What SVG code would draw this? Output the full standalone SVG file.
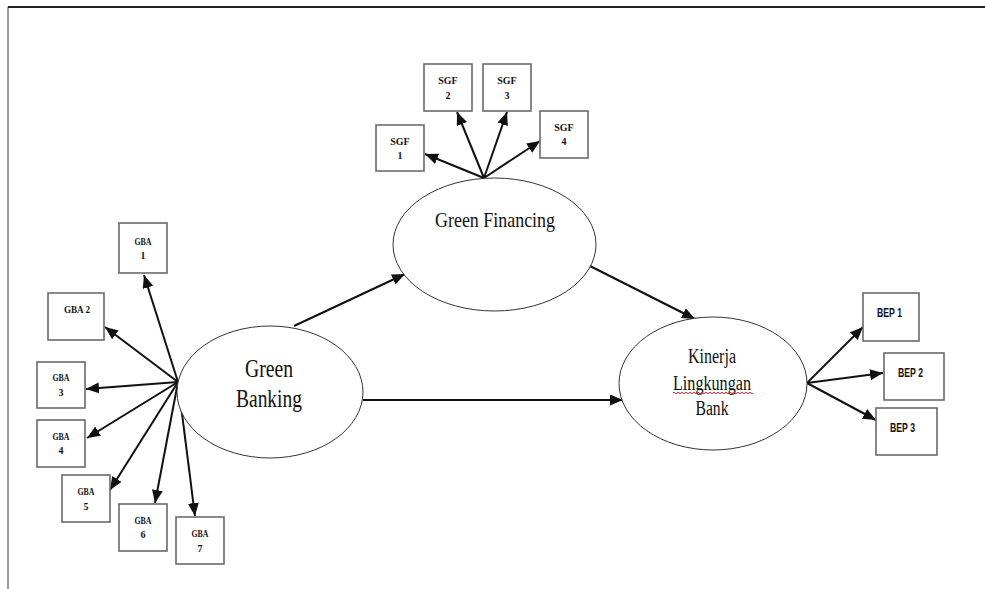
<svg xmlns="http://www.w3.org/2000/svg" width="985" height="589" viewBox="0 0 985 589">
<style>
.box{fill:#fff;stroke:#6a6a6a;stroke-width:1.6}
.ell{fill:#fff;stroke:#333;stroke-width:1}
.lbl{font-family:"Liberation Serif","Times New Roman",serif;font-weight:bold;font-size:10px;fill:#111;text-anchor:middle}
.big{font-family:"Liberation Serif","Times New Roman",serif;fill:#111;text-anchor:middle}
.bep{font-family:"Liberation Sans",Arial,sans-serif;font-weight:bold;font-size:12px;fill:#111}
.arr{stroke:#111;stroke-width:2;fill:none;marker-end:url(#ah)}
</style>
<defs>
<marker id="ah" markerUnits="userSpaceOnUse" markerWidth="14" markerHeight="12" refX="13" refY="5.5" orient="auto">
<path d="M0,0 L13,5.5 L0,11 z" fill="#111"/>
</marker>
</defs>
<rect width="985" height="589" fill="#fff"/>
<g id="frame">
<line x1="8" y1="7" x2="985" y2="7" stroke="#222" stroke-width="2"/>
<line x1="8" y1="7" x2="8" y2="589" stroke="#333" stroke-width="1"/>
</g>
<g id="connectors">
<line class="arr" x1="484" y1="178" x2="425" y2="154"/>
<line class="arr" x1="484" y1="178" x2="457" y2="112"/>
<line class="arr" x1="484" y1="178" x2="507" y2="112"/>
<line class="arr" x1="484" y1="178" x2="540" y2="141"/>
<line class="arr" x1="294" y1="326" x2="405" y2="274"/>
<line class="arr" x1="588" y1="265" x2="695" y2="319"/>
<line class="arr" x1="363" y1="400" x2="623" y2="400"/>
<line class="arr" x1="807" y1="383" x2="863" y2="327"/>
<line class="arr" x1="807" y1="383" x2="883" y2="373"/>
<line class="arr" x1="807" y1="383" x2="876" y2="420"/>
<line class="arr" x1="178" y1="382" x2="144" y2="275"/>
<line class="arr" x1="178" y1="382" x2="105" y2="327"/>
<line class="arr" x1="178" y1="382" x2="86" y2="389"/>
<line class="arr" x1="178" y1="382" x2="87" y2="438"/>
<line class="arr" x1="178" y1="382" x2="110" y2="490"/>
<line class="arr" x1="178" y1="382" x2="155" y2="503"/>
<line class="arr" x1="178" y1="382" x2="195" y2="516"/>
</g>
<g id="green-financing">
<ellipse class="ell" cx="494.5" cy="244.5" rx="101.5" ry="66.5"/>
<text class="big" x="495" y="227" font-size="22" textLength="120" lengthAdjust="spacingAndGlyphs">Green Financing</text>
</g>
<g id="green-banking">
<ellipse class="ell" cx="270" cy="392" rx="93" ry="66"/>
<text class="big" x="269" y="377" font-size="25" textLength="48" lengthAdjust="spacingAndGlyphs">Green</text>
<text class="big" x="269" y="407" font-size="25" textLength="66" lengthAdjust="spacingAndGlyphs">Banking</text>
</g>
<g id="kinerja">
<ellipse class="ell" cx="713" cy="383.5" rx="94" ry="66.5"/>
<text class="big" x="712" y="363" font-size="20" textLength="48" lengthAdjust="spacingAndGlyphs">Kinerja</text>
<text class="big" x="712" y="390" font-size="20" textLength="78" lengthAdjust="spacingAndGlyphs">Lingkungan</text>
<path d="M673,393 q1,-2 2,0 t2,0 t2,0 t2,0 t2,0 t2,0 t2,0 t2,0 t2,0 t2,0 t2,0 t2,0 t2,0 t2,0 t2,0 t2,0 t2,0 t2,0 t2,0 t2,0 t2,0 t2,0 t2,0 t2,0 t2,0 t2,0 t2,0 t2,0 t2,0 t2,0 t2,0 t2,0 t2,0 t2,0 t2,0 t2,0 t2,0 t2,0 t2,0 t2,0" fill="none" stroke="#e03030" stroke-width="1"/>
<text class="big" x="712" y="415" font-size="20" textLength="33" lengthAdjust="spacingAndGlyphs">Bank</text>
</g>
<g id="sgf1"><rect class="box" x="376" y="125" width="48" height="46"/><text class="lbl" x="400" y="145">SGF</text><text class="lbl" x="400" y="159">1</text></g>
<g id="sgf2"><rect class="box" x="424" y="64" width="48" height="47"/><text class="lbl" x="448" y="84">SGF</text><text class="lbl" x="448" y="99">2</text></g>
<g id="sgf3"><rect class="box" x="483" y="64" width="48" height="47"/><text class="lbl" x="507" y="84">SGF</text><text class="lbl" x="507" y="99">3</text></g>
<g id="sgf4"><rect class="box" x="540" y="111" width="48" height="47"/><text class="lbl" x="564" y="131">SGF</text><text class="lbl" x="564" y="145">4</text></g>
<g id="gba1"><rect class="box" x="119" y="223" width="48" height="50"/><text class="lbl" x="143" y="245" textLength="17" lengthAdjust="spacingAndGlyphs">GBA</text><text class="lbl" x="143" y="259">1</text></g>
<g id="gba2"><rect class="box" x="48" y="293" width="56" height="47"/><text class="lbl" x="77" y="313" textLength="26" lengthAdjust="spacingAndGlyphs">GBA 2</text></g>
<g id="gba3"><rect class="box" x="37" y="362" width="48" height="46"/><text class="lbl" x="61" y="381" textLength="17" lengthAdjust="spacingAndGlyphs">GBA</text><text class="lbl" x="61" y="396">3</text></g>
<g id="gba4"><rect class="box" x="37" y="420" width="48" height="47"/><text class="lbl" x="61" y="440" textLength="17" lengthAdjust="spacingAndGlyphs">GBA</text><text class="lbl" x="61" y="454">4</text></g>
<g id="gba5"><rect class="box" x="62" y="475" width="48" height="47"/><text class="lbl" x="86" y="495" textLength="17" lengthAdjust="spacingAndGlyphs">GBA</text><text class="lbl" x="86" y="510">5</text></g>
<g id="gba6"><rect class="box" x="119" y="504" width="48" height="47"/><text class="lbl" x="143" y="524" textLength="17" lengthAdjust="spacingAndGlyphs">GBA</text><text class="lbl" x="143" y="538">6</text></g>
<g id="gba7"><rect class="box" x="176" y="517" width="48" height="47"/><text class="lbl" x="200" y="537" textLength="17" lengthAdjust="spacingAndGlyphs">GBA</text><text class="lbl" x="200" y="552">7</text></g>
<g id="bep1"><rect class="box" x="863" y="293" width="56" height="48"/><text class="bep" x="877" y="317" textLength="25" lengthAdjust="spacingAndGlyphs">BEP 1</text></g>
<g id="bep2"><rect class="box" x="884" y="353" width="60" height="47"/><text class="bep" x="898" y="377" textLength="25" lengthAdjust="spacingAndGlyphs">BEP 2</text></g>
<g id="bep3"><rect class="box" x="876" y="408" width="61" height="47"/><text class="bep" x="890" y="432" textLength="25" lengthAdjust="spacingAndGlyphs">BEP 3</text></g>
</svg>
